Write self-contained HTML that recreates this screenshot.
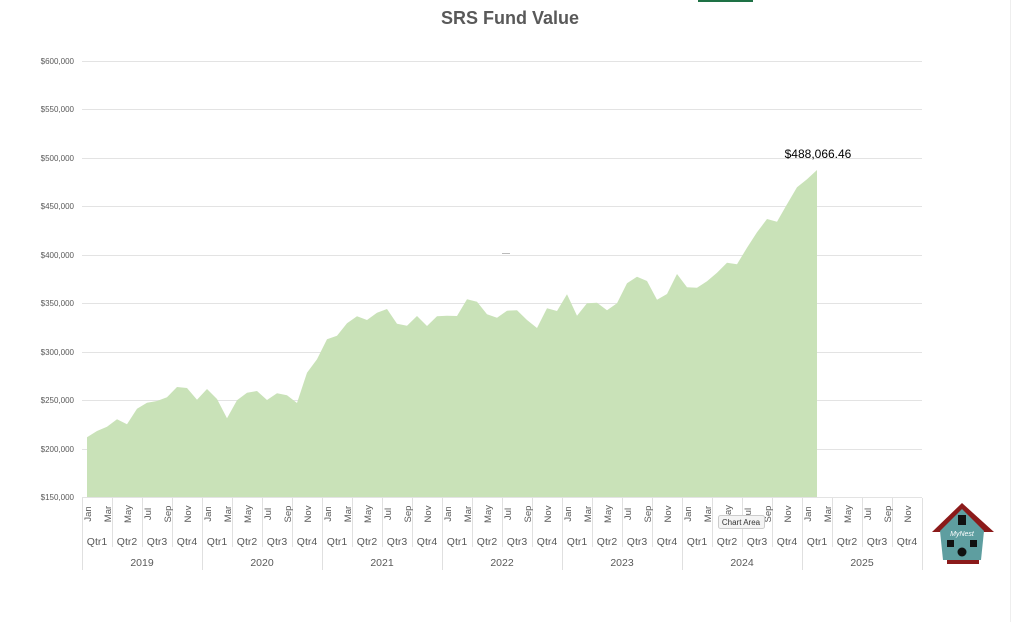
<!DOCTYPE html>
<html><head><meta charset="utf-8"><style>
body{margin:0;background:#fff;width:1022px;height:622px;overflow:hidden;font-family:"Liberation Sans",sans-serif}
</style></head><body>
<svg width="1022" height="622" xmlns="http://www.w3.org/2000/svg" font-family="Liberation Sans, sans-serif">
<rect x="698" y="0" width="55" height="2" fill="#1e7145"/>
<text x="510" y="24" text-anchor="middle" font-size="18" font-weight="bold" fill="#595959">SRS Fund Value</text>
<g stroke="#e3e3e3" stroke-width="1">
<line x1="82" x2="922" y1="61.5" y2="61.5"/><line x1="82" x2="922" y1="109.5" y2="109.5"/>
<line x1="82" x2="922" y1="158.5" y2="158.5"/><line x1="82" x2="922" y1="206.5" y2="206.5"/>
<line x1="82" x2="922" y1="255.5" y2="255.5"/><line x1="82" x2="922" y1="303.5" y2="303.5"/>
<line x1="82" x2="922" y1="352.5" y2="352.5"/><line x1="82" x2="922" y1="400.5" y2="400.5"/>
<line x1="82" x2="922" y1="449.5" y2="449.5"/><line x1="82" x2="922" y1="497.5" y2="497.5"/>
</g>
<g font-size="8" fill="#595959" text-anchor="end">
<text x="74" y="64">$600,000</text><text x="74" y="112">$550,000</text><text x="74" y="161">$500,000</text>
<text x="74" y="209">$450,000</text><text x="74" y="258">$400,000</text><text x="74" y="306">$350,000</text>
<text x="74" y="355">$300,000</text><text x="74" y="403">$250,000</text><text x="74" y="452">$200,000</text>
<text x="74" y="500">$150,000</text>
</g>
<polygon fill="#c9e2b8" points="87,497 87,437.3 97,431 107,426.7 117,419.3 127,424.3 137,408.7 147,402.7 157,401 167,397.3 177,387 187,388 197,399.7 207,389 217,399 227,418.3 237,400.3 247,392.7 257,391 267,400 277,393.3 287,395.3 297,403 307,372.7 317,359.3 327,339.3 337,335.7 347,323.3 357,316.3 367,320 377,312.7 387,309 397,323.7 407,325.7 417,316 427,326 437,316.3 447,315.7 457,316 467,299.3 477,301.7 487,314.3 497,317.7 507,310.7 517,310.3 527,320 537,328 547,308.3 557,311 567,294.3 577,315.7 587,303.3 597,302.7 607,310.3 617,303.3 627,283.3 637,276.7 647,281 657,299.7 667,294 677,274 687,287.3 697,287.7 707,281.3 717,272.7 727,262.7 737,264.3 747,247.7 757,232.3 767,219 777,221.7 787,204.3 797,187.3 807,179.3 817,170 817,497"/>
<line x1="502" x2="510" y1="253.5" y2="253.5" stroke="#bbb"/>
<text x="818" y="158" text-anchor="middle" font-size="12" fill="#000">$488,066.46</text>
<g stroke="#e0e0e0">
<line x1="82.5" x2="82.5" y1="498" y2="570"/><line x1="202.5" x2="202.5" y1="498" y2="570"/><line x1="322.5" x2="322.5" y1="498" y2="570"/><line x1="442.5" x2="442.5" y1="498" y2="570"/><line x1="562.5" x2="562.5" y1="498" y2="570"/><line x1="682.5" x2="682.5" y1="498" y2="570"/><line x1="802.5" x2="802.5" y1="498" y2="570"/><line x1="922.5" x2="922.5" y1="498" y2="570"/>
<path d="M112.5 498V547M142.5 498V547M172.5 498V547M232.5 498V547M262.5 498V547M292.5 498V547M352.5 498V547M382.5 498V547M412.5 498V547M472.5 498V547M502.5 498V547M532.5 498V547M592.5 498V547M622.5 498V547M652.5 498V547M712.5 498V547M742.5 498V547M772.5 498V547M832.5 498V547M862.5 498V547M892.5 498V547"/>
</g>
<g font-size="9.5" fill="#595959" text-anchor="middle">
<text transform="translate(91,514) rotate(-90)">Jan</text><text transform="translate(111,514) rotate(-90)">Mar</text><text transform="translate(131,514) rotate(-90)">May</text><text transform="translate(151,514) rotate(-90)">Jul</text><text transform="translate(171,514) rotate(-90)">Sep</text><text transform="translate(191,514) rotate(-90)">Nov</text>
<text transform="translate(211,514) rotate(-90)">Jan</text><text transform="translate(231,514) rotate(-90)">Mar</text><text transform="translate(251,514) rotate(-90)">May</text><text transform="translate(271,514) rotate(-90)">Jul</text><text transform="translate(291,514) rotate(-90)">Sep</text><text transform="translate(311,514) rotate(-90)">Nov</text>
<text transform="translate(331,514) rotate(-90)">Jan</text><text transform="translate(351,514) rotate(-90)">Mar</text><text transform="translate(371,514) rotate(-90)">May</text><text transform="translate(391,514) rotate(-90)">Jul</text><text transform="translate(411,514) rotate(-90)">Sep</text><text transform="translate(431,514) rotate(-90)">Nov</text>
<text transform="translate(451,514) rotate(-90)">Jan</text><text transform="translate(471,514) rotate(-90)">Mar</text><text transform="translate(491,514) rotate(-90)">May</text><text transform="translate(511,514) rotate(-90)">Jul</text><text transform="translate(531,514) rotate(-90)">Sep</text><text transform="translate(551,514) rotate(-90)">Nov</text>
<text transform="translate(571,514) rotate(-90)">Jan</text><text transform="translate(591,514) rotate(-90)">Mar</text><text transform="translate(611,514) rotate(-90)">May</text><text transform="translate(631,514) rotate(-90)">Jul</text><text transform="translate(651,514) rotate(-90)">Sep</text><text transform="translate(671,514) rotate(-90)">Nov</text>
<text transform="translate(691,514) rotate(-90)">Jan</text><text transform="translate(711,514) rotate(-90)">Mar</text><text transform="translate(731,514) rotate(-90)">May</text><text transform="translate(751,514) rotate(-90)">Jul</text><text transform="translate(771,514) rotate(-90)">Sep</text><text transform="translate(791,514) rotate(-90)">Nov</text>
<text transform="translate(811,514) rotate(-90)">Jan</text><text transform="translate(831,514) rotate(-90)">Mar</text><text transform="translate(851,514) rotate(-90)">May</text><text transform="translate(871,514) rotate(-90)">Jul</text><text transform="translate(891,514) rotate(-90)">Sep</text><text transform="translate(911,514) rotate(-90)">Nov</text>
</g>
<g font-size="10.5" fill="#595959" text-anchor="middle">
<text x="97" y="545">Qtr1</text><text x="127" y="545">Qtr2</text><text x="157" y="545">Qtr3</text><text x="187" y="545">Qtr4</text>
<text x="217" y="545">Qtr1</text><text x="247" y="545">Qtr2</text><text x="277" y="545">Qtr3</text><text x="307" y="545">Qtr4</text>
<text x="337" y="545">Qtr1</text><text x="367" y="545">Qtr2</text><text x="397" y="545">Qtr3</text><text x="427" y="545">Qtr4</text>
<text x="457" y="545">Qtr1</text><text x="487" y="545">Qtr2</text><text x="517" y="545">Qtr3</text><text x="547" y="545">Qtr4</text>
<text x="577" y="545">Qtr1</text><text x="607" y="545">Qtr2</text><text x="637" y="545">Qtr3</text><text x="667" y="545">Qtr4</text>
<text x="697" y="545">Qtr1</text><text x="727" y="545">Qtr2</text><text x="757" y="545">Qtr3</text><text x="787" y="545">Qtr4</text>
<text x="817" y="545">Qtr1</text><text x="847" y="545">Qtr2</text><text x="877" y="545">Qtr3</text><text x="907" y="545">Qtr4</text>
<text x="142" y="566">2019</text><text x="262" y="566">2020</text><text x="382" y="566">2021</text><text x="502" y="566">2022</text><text x="622" y="566">2023</text><text x="742" y="566">2024</text><text x="862" y="566">2025</text>
</g>
<rect x="718.5" y="515.5" width="46" height="13" rx="2" fill="#f4f4f4" stroke="#ccc"/>
<text x="741" y="525" text-anchor="middle" font-size="8" fill="#333">Chart Area</text>
<polygon points="962,503 932,532 994,532" fill="#8b1a1a"/>
<polygon points="962,509 940,531 943,560 981,560 984,531" fill="#5e9ea0"/>
<rect x="947" y="560" width="32" height="4" fill="#8b1a1a"/>
<rect x="958" y="515" width="8" height="10" fill="#111"/>
<rect x="947" y="540" width="7" height="7" fill="#111"/>
<rect x="970" y="540" width="7" height="7" fill="#111"/>
<circle cx="962" cy="552" r="4.5" fill="#111"/>
<text x="962" y="536" text-anchor="middle" font-size="7" font-style="italic" fill="#fff">MyNest</text>
<line x1="1010.5" x2="1010.5" y1="0" y2="622" stroke="#eee"/>
</svg>
</body></html>
